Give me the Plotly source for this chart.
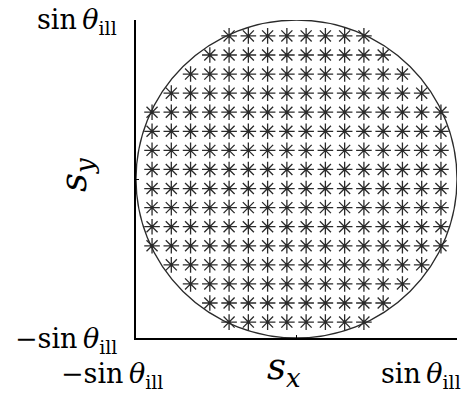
import plotly.graph_objects as go

# Illumination grid: rows of source points (s_y) and how many points each row holds
row_y = [0.90, 0.78, 0.66, 0.54, 0.42, 0.30, 0.18, 0.06,
         -0.06, -0.18, -0.30, -0.42, -0.54, -0.66, -0.78, -0.90]
row_count = [8, 10, 12, 14, 16, 16, 16, 16, 16, 16, 16, 16, 14, 12, 10, 8]
col_x = [-0.90, -0.78, -0.66, -0.54, -0.42, -0.30, -0.18, -0.06,
         0.06, 0.18, 0.30, 0.42, 0.54, 0.66, 0.78, 0.90]

tick_vals = [-1, 0, 1]
pos_label = "sin\u2009<i>θ</i><sub>ill</sub>"
neg_label = "\u2212sin\u2009<i>θ</i><sub>ill</sub>"

# Each row is centred on s_x = 0
xs, ys = [], []
for y, n in zip(row_y, row_count):
    start = (len(col_x) - n) // 2
    for x in col_x[start:start + n]:
        xs.append(x)
        ys.append(y)

INK = "#2a2a2a"
FONT = "DejaVu Serif"

fig = go.Figure()
fig.add_trace(go.Scatter(
    x=xs, y=ys, mode="markers",
    marker=dict(symbol="asterisk-open", size=13, color=INK,
                line=dict(color=INK, width=1.3)),
    hoverinfo="skip", showlegend=False,
))

# Pupil boundary
fig.add_shape(type="circle", xref="x", yref="y", x0=-1, y0=-1, x1=1, y1=1,
              line=dict(color=INK, width=1.3), layer="below")

axis_common = dict(
    range=[-1, 1], showgrid=False, zeroline=False,
    showline=True, linecolor="black", linewidth=1.5,
    ticks="inside", ticklen=3, tickcolor="black", tickwidth=1,
    tickvals=tick_vals, showticklabels=False, fixedrange=True,
)

fig.update_layout(
    width=462, height=397,
    margin=dict(l=136, r=5, t=20, b=59),
    plot_bgcolor="white", paper_bgcolor="white",
    xaxis=dict(**axis_common),
    yaxis=dict(**axis_common),
    font=dict(family=FONT, color="black"),
)

lab_font = dict(family=FONT, size=27, color="black")
# y tick labels
fig.add_annotation(x=0, xref="paper", y=1, yref="y", text=pos_label,
                   xanchor="right", yanchor="middle", xshift=-17, yshift=-1,
                   showarrow=False, font=lab_font)
fig.add_annotation(x=0, xref="paper", y=-1, yref="y", text=neg_label,
                   xanchor="right", yanchor="middle", xshift=-17, yshift=-2,
                   showarrow=False, font=lab_font)
# x tick labels
fig.add_annotation(x=-1, xref="x", y=0, yref="paper", text=neg_label,
                   xanchor="left", yanchor="top", xshift=-77, yshift=-18,
                   showarrow=False, font=lab_font)
fig.add_annotation(x=1, xref="x", y=0, yref="paper", text=pos_label,
                   xanchor="left", yanchor="top", xshift=-78, yshift=-18,
                   showarrow=False, font=lab_font)

# axis titles
title_font = dict(family=FONT, size=37, color="black")
fig.add_annotation(x=0, xref="x", y=0, yref="paper",
                   text="<i>s</i><sub><i>x</i></sub>",
                   xanchor="center", yanchor="top", xshift=-13, yshift=-5,
                   showarrow=False, font=title_font)
fig.add_annotation(x=0, xref="paper", y=0, yref="y",
                   text="<i>s</i><sub><i>y</i></sub>",
                   textangle=-90, xanchor="center", yanchor="middle",
                   xshift=-60, yshift=4,
                   showarrow=False, font=title_font)

fig.write_html("out.html")
